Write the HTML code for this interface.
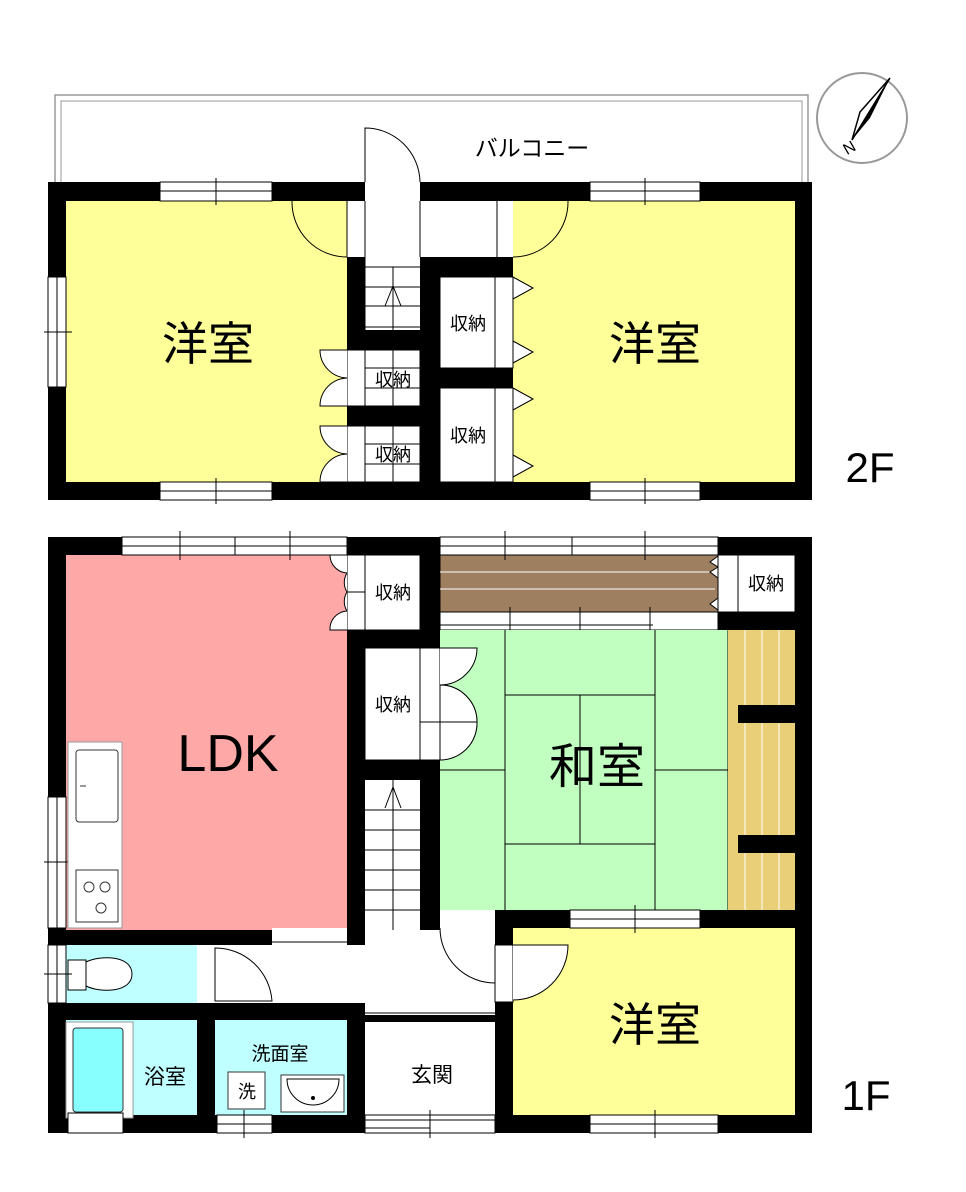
<!DOCTYPE html>
<html><head><meta charset="utf-8"><style>
html,body{margin:0;padding:0;background:#fff;}
svg{display:block;}
text{font-family:"Liberation Sans","Noto Sans CJK JP",sans-serif;fill:#000;}
</style></head><body>
<svg width="966" height="1192" viewBox="0 0 966 1192" xmlns="http://www.w3.org/2000/svg">
<!-- ========== 2F ========== -->
<!-- balcony -->
<rect x="55" y="95" width="753" height="88" fill="none" stroke="#999" stroke-width="1.5"/>
<rect x="61" y="101" width="741" height="82" fill="none" stroke="#999" stroke-width="1"/>
<text x="532" y="156" font-size="23" text-anchor="middle">バルコニー</text>
<!-- compass -->
<circle cx="862" cy="118" r="45" fill="#fff" stroke="#999" stroke-width="2"/>
<polygon points="890,78 852,140 870,118" fill="#000"/>
<polygon points="890,78 852,140 860,112" fill="#fff" stroke="#000" stroke-width="1.5"/>
<text x="844" y="156" font-size="16" font-family="Liberation Serif" transform="rotate(-30 844 150)">N</text>
<!-- outer black -->
<rect x="48" y="182" width="764" height="318" fill="#000"/>
<rect x="66" y="201" width="281" height="281" fill="#ffff99"/>
<rect x="513" y="201" width="282" height="281" fill="#ffff99"/>
<!-- hall / stairs -->
<rect x="347" y="201" width="166" height="56" fill="#fff"/>
<rect x="365" y="182" width="55" height="20" fill="#fff"/>
<rect x="365" y="257" width="55" height="73" fill="#fff"/>
<g stroke="#000" stroke-width="1" fill="none">
<line x1="365" y1="201" x2="365" y2="330"/><line x1="420" y1="201" x2="420" y2="257"/>
<line x1="347" y1="201" x2="347" y2="257"/><line x1="497" y1="201" x2="497" y2="257"/>
<line x1="365" y1="267" x2="420" y2="267"/><line x1="365" y1="287" x2="420" y2="287"/><line x1="365" y1="306" x2="420" y2="306"/><line x1="365" y1="327" x2="420" y2="327"/>
<line x1="393" y1="267" x2="393" y2="330"/>
<polyline points="385,306 393,286 401,306"/>
<!-- balcony door -->
<path d="M365,182 L365,128 A55,55 0 0 1 420,182"/>
<!-- left room door -->
<path d="M347,257 A55,55 0 0 1 292,201"/>
<path d="M513,257 A55,55 0 0 0 568,201"/>
</g>
<!-- small closets -->
<rect x="347" y="350" width="73" height="56" fill="#fff" stroke="#000"/>
<rect x="347" y="426" width="73" height="56" fill="#fff" stroke="#000"/>
<g stroke="#000" stroke-width="1" fill="none">
<line x1="365" y1="350" x2="365" y2="406"/><line x1="365" y1="426" x2="365" y2="482"/>
<line x1="393" y1="350" x2="393" y2="406"/><line x1="393" y1="426" x2="393" y2="482"/>
<line x1="365" y1="368" x2="420" y2="368"/><line x1="365" y1="388" x2="420" y2="388"/>
<line x1="365" y1="444" x2="420" y2="444"/><line x1="365" y1="464" x2="420" y2="464"/>
<path d="M347,350 L320,350 A28,28 0 0 0 347,378 A28,28 0 0 0 320,406 L347,406" fill="#fff"/>
<path d="M347,426 L320,426 A28,28 0 0 0 347,454 A28,28 0 0 0 320,482 L347,482" fill="#fff"/>
</g>
<text x="393" y="386" font-size="18" text-anchor="middle">収納</text>
<text x="393" y="461" font-size="18" text-anchor="middle">収納</text>
<!-- right closets -->
<rect x="440" y="277" width="73" height="91" fill="#fff" stroke="#000"/>
<rect x="440" y="388" width="73" height="94" fill="#fff" stroke="#000"/>
<line x1="495" y1="277" x2="495" y2="368" stroke="#000"/><line x1="495" y1="388" x2="495" y2="482" stroke="#000"/>
<g fill="#fff" stroke="#000">
<polygon points="513,277 533,288 513,299"/><polygon points="513,341 533,352 513,363"/>
<polygon points="513,388 533,399 513,410"/><polygon points="513,455 533,466 513,477"/>
</g>
<text x="468" y="330" font-size="18" text-anchor="middle">収納</text>
<text x="468" y="442" font-size="18" text-anchor="middle">収納</text>
<!-- windows 2F -->
<g fill="#fff" stroke="#000" stroke-width="1">
<rect x="160" y="182" width="112" height="19"/><rect x="160" y="482" width="112" height="18"/>
<rect x="590" y="182" width="110" height="19"/><rect x="590" y="482" width="110" height="18"/>
<rect x="48" y="277" width="18" height="110"/>
</g>
<g stroke="#000" stroke-width="1">
<line x1="160" y1="191" x2="272" y2="191"/><line x1="216" y1="178" x2="216" y2="205"/>
<line x1="160" y1="491" x2="272" y2="491"/><line x1="216" y1="478" x2="216" y2="504"/>
<line x1="590" y1="191" x2="700" y2="191"/><line x1="645" y1="178" x2="645" y2="205"/>
<line x1="590" y1="491" x2="700" y2="491"/><line x1="645" y1="478" x2="645" y2="504"/>
<line x1="57" y1="277" x2="57" y2="387"/><line x1="44" y1="332" x2="72" y2="332"/>
</g>
<text x="208" y="360" font-size="46" text-anchor="middle">洋室</text>
<text x="655" y="360" font-size="46" text-anchor="middle">洋室</text>
<text x="870" y="482" font-size="42" text-anchor="middle">2F</text>

<!-- ========== 1F ========== -->
<rect x="48" y="537" width="764" height="596" fill="#000"/>
<!-- LDK -->
<rect x="66" y="555" width="281" height="375" fill="#ffa8a8"/>
<!-- closet upper -->
<rect x="347" y="555" width="73" height="75" fill="#fff" stroke="#000"/>
<line x1="365" y1="555" x2="365" y2="630" stroke="#000"/>
<line x1="347" y1="592" x2="365" y2="592" stroke="#000"/>
<path d="M347,555 L330,555 A18,18 0 0 0 347,573 M347,573 A18,18 0 0 0 347,592 M347,592 A18,18 0 0 0 347,611 M347,611 A18,18 0 0 0 330,630 L347,630" fill="#fff" stroke="#000"/>
<text x="393" y="599" font-size="18" text-anchor="middle">収納</text>
<!-- engawa -->
<rect x="440" y="555" width="278" height="57" fill="#9e8060" stroke="#000"/>
<g stroke="#fff" stroke-width="1"><line x1="440" y1="572" x2="715" y2="572"/><line x1="440" y1="589" x2="715" y2="589"/></g>
<rect x="440" y="612" width="278" height="18" fill="#fff" stroke="#000"/>
<g stroke="#000"><line x1="440" y1="625" x2="653" y2="625"/><line x1="510" y1="607" x2="510" y2="634"/><line x1="580" y1="607" x2="580" y2="634"/><line x1="650" y1="607" x2="650" y2="634"/></g>
<polygon points="718,556 710,562 718,567 710,572 718,578" fill="#fff" stroke="#000"/>
<polygon points="718,598 710,604 718,610" fill="#fff" stroke="#000"/>
<rect x="718" y="555" width="77" height="57" fill="#fff" stroke="#000"/>
<line x1="738" y1="555" x2="738" y2="612" stroke="#000"/>
<text x="766" y="590" font-size="18" text-anchor="middle">収納</text>
<!-- washitsu -->
<rect x="440" y="630" width="288" height="280" fill="#c0ffc0"/>
<g stroke="#000" stroke-width="1" fill="none">
<line x1="505" y1="630" x2="505" y2="910"/><line x1="655" y1="630" x2="655" y2="910"/>
<line x1="505" y1="695" x2="655" y2="695"/><line x1="505" y1="844" x2="655" y2="844"/>
<line x1="580" y1="695" x2="580" y2="844"/>
<line x1="440" y1="770" x2="505" y2="770"/><line x1="655" y1="770" x2="728" y2="770"/>
<line x1="728" y1="630" x2="728" y2="910"/>
</g>
<rect x="728" y="630" width="67" height="280" fill="#e8cf78"/>
<g stroke="#fff" stroke-width="1"><line x1="745" y1="630" x2="745" y2="910"/><line x1="762" y1="630" x2="762" y2="910"/><line x1="779" y1="630" x2="779" y2="910"/></g>
<rect x="738" y="705" width="57" height="18" fill="#000"/><rect x="738" y="835" width="57" height="18" fill="#000"/>
<!-- closet 2 -->
<rect x="365" y="648" width="75" height="112" fill="#fff" stroke="#000"/>
<line x1="420" y1="648" x2="420" y2="760" stroke="#000"/>
<line x1="420" y1="722" x2="440" y2="722" stroke="#000"/>
<path d="M440,648 L477,648 A37,37 0 0 1 440,685 A37,37 0 0 1 477,722 A37,37 0 0 1 440,760" fill="#fff" stroke="#000"/>
<path d="M440,685 A37,37 0 0 1 477,722 L440,722 Z M440,722 L477,722 A37,37 0 0 1 440,760 Z" fill="#fff" stroke="#000"/>
<text x="393" y="711" font-size="18" text-anchor="middle">収納</text>
<!-- stair 1F -->
<rect x="365" y="780" width="55" height="150" fill="#fff"/>
<g stroke="#000" stroke-width="1" fill="none">
<line x1="393" y1="780" x2="393" y2="930"/>
<line x1="365" y1="810" x2="420" y2="810"/><line x1="365" y1="830" x2="420" y2="830"/><line x1="365" y1="850" x2="420" y2="850"/><line x1="365" y1="870" x2="420" y2="870"/><line x1="365" y1="890" x2="420" y2="890"/><line x1="365" y1="910" x2="420" y2="910"/>
<polyline points="385,808 393,787 401,808"/>
</g>
<!-- hall -->
<rect x="272" y="928" width="75" height="75" fill="#fff"/>
<rect x="197" y="945" width="150" height="58" fill="#fff"/>
<rect x="365" y="930" width="130" height="85" fill="#fff"/>
<rect x="347" y="945" width="20" height="58" fill="#fff"/>
<rect x="440" y="910" width="55" height="20" fill="#fff"/>
<g stroke="#000" stroke-width="1" fill="none">
<line x1="272" y1="942" x2="347" y2="942"/><line x1="272" y1="1006" x2="347" y2="1006"/>
<line x1="200" y1="940" x2="272" y2="940" stroke-dasharray="3,2"/><line x1="200" y1="1008" x2="272" y2="1008" stroke-dasharray="3,2"/>
<path d="M215,1001 L215,948 A57,57 0 0 1 272,1001 Z"/>
<path d="M495,983 A55,55 0 0 1 440,928"/>
<line x1="365" y1="1013" x2="495" y2="1013"/><line x1="365" y1="1022" x2="495" y2="1022"/>
</g>
<!-- genkan -->
<rect x="365" y="1022" width="130" height="93" fill="#fff"/>
<rect x="365" y="1115" width="130" height="18" fill="#fff" stroke="#000"/>
<g stroke="#000"><line x1="365" y1="1120" x2="495" y2="1120"/><line x1="365" y1="1128" x2="430" y2="1128"/><line x1="430" y1="1110" x2="430" y2="1138"/></g>
<text x="432" y="1082" font-size="21" text-anchor="middle">玄関</text>
<!-- 1F western room -->
<rect x="513" y="928" width="282" height="187" fill="#ffff99"/>
<rect x="495" y="945" width="18" height="57" fill="#fff" stroke="#000"/>
<path d="M513,945 L568,945 A55,55 0 0 1 513,1000" fill="#fff" stroke="#000"/>
<!-- toilet -->
<rect x="66" y="945" width="131" height="58" fill="#c0ffff"/>
<rect x="68" y="960" width="18" height="30" fill="#fff" stroke="#000"/>
<path d="M86,962 C100,955 132,955 132,974 C132,993 100,993 86,986 Z" fill="#fff" stroke="#000"/>
<!-- bath -->
<rect x="66" y="1020" width="131" height="95" fill="#c0ffff"/>
<rect x="66" y="1022" width="67" height="96" fill="#fff" stroke="#999"/>
<rect x="73" y="1028" width="50" height="84" rx="3" fill="#88ffff" stroke="#333"/>
<rect x="68" y="1113" width="55" height="20" fill="#fff" stroke="#000"/>
<text x="165" y="1084" font-size="21" text-anchor="middle">浴室</text>
<!-- washroom -->
<rect x="215" y="1020" width="132" height="95" fill="#c0ffff"/>
<rect x="228" y="1072" width="37" height="37" fill="#fff" stroke="#333"/>
<text x="247" y="1098" font-size="18" text-anchor="middle">洗</text>
<rect x="281" y="1075" width="63" height="37" fill="#fff" stroke="#333"/>
<path d="M287,1079 L339,1079 A26,26 0 0 1 287,1079 Z" fill="#fff" stroke="#000"/>
<circle cx="313" cy="1098" r="2" fill="#000"/>
<text x="280" y="1060" font-size="19" text-anchor="middle">洗面室</text>
<!-- windows 1F -->
<g fill="#fff" stroke="#000" stroke-width="1">
<rect x="122" y="537" width="225" height="18"/>
<rect x="440" y="537" width="278" height="18"/>
<rect x="48" y="797" width="18" height="131"/>
<rect x="48" y="945" width="18" height="58"/>
<rect x="570" y="910" width="130" height="18"/>
<rect x="590" y="1115" width="128" height="18"/>
<rect x="217" y="1115" width="55" height="18"/>
</g>
<g stroke="#000" stroke-width="1">
<line x1="122" y1="546" x2="347" y2="546"/><line x1="235" y1="537" x2="235" y2="555"/>
<line x1="180" y1="531" x2="180" y2="560"/><line x1="290" y1="531" x2="290" y2="560"/>
<line x1="440" y1="546" x2="718" y2="546"/><line x1="572" y1="537" x2="572" y2="555"/>
<line x1="505" y1="531" x2="505" y2="560"/><line x1="645" y1="531" x2="645" y2="560"/>
<line x1="57" y1="797" x2="57" y2="928"/><line x1="44" y1="862" x2="72" y2="862"/>
<line x1="57" y1="945" x2="57" y2="1003"/><line x1="44" y1="974" x2="72" y2="974"/>
<line x1="570" y1="919" x2="700" y2="919"/><line x1="635" y1="905" x2="635" y2="933"/>
<line x1="590" y1="1124" x2="718" y2="1124"/><line x1="655" y1="1110" x2="655" y2="1138"/>
<line x1="217" y1="1124" x2="272" y2="1124"/><line x1="244" y1="1110" x2="244" y2="1138"/>
</g>
<!-- kitchen -->
<rect x="68" y="742" width="54" height="186" fill="#fff" stroke="#999"/>
<rect x="76" y="750" width="42" height="72" rx="3" fill="#fff" stroke="#333"/>
<line x1="80" y1="786" x2="86" y2="786" stroke="#333"/>
<rect x="76" y="870" width="42" height="52" fill="#fff" stroke="#333"/>
<circle cx="89" cy="887" r="5" fill="none" stroke="#333"/><circle cx="105" cy="887" r="5" fill="none" stroke="#333"/><circle cx="101" cy="908" r="5" fill="none" stroke="#333"/>
<text x="228" y="771" font-size="52" text-anchor="middle">LDK</text>
<text x="597" y="783" font-size="48" text-anchor="middle">和室</text>
<text x="655" y="1041" font-size="46" text-anchor="middle">洋室</text>
<text x="866" y="1110" font-size="42" text-anchor="middle">1F</text>
</svg>
</body></html>
